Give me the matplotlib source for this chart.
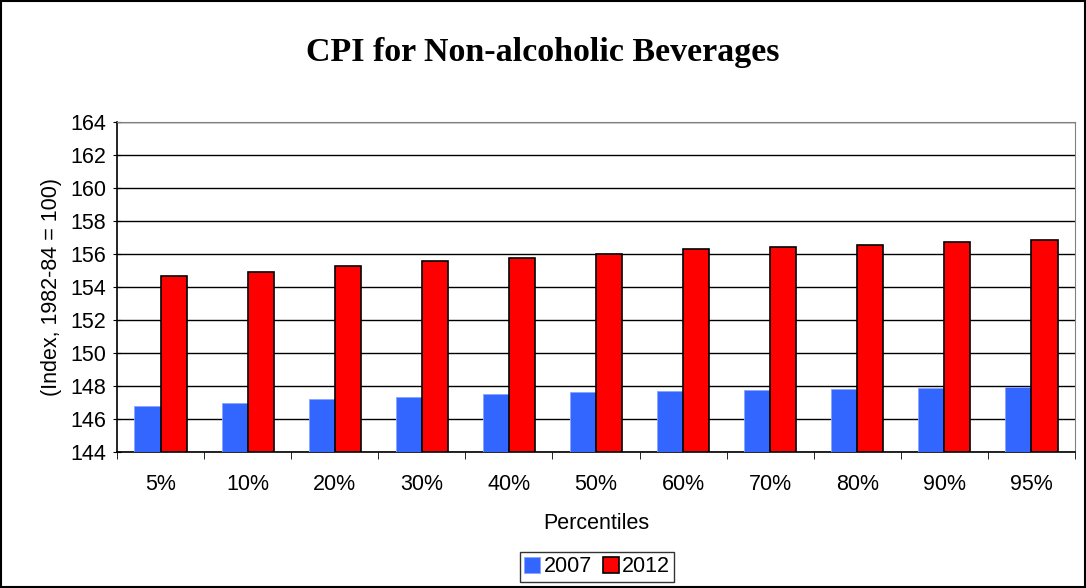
import numpy as np
import matplotlib.pyplot as plt
from matplotlib.patches import Rectangle

categories = ['5%', '10%', '20%', '30%', '40%', '50%', '60%', '70%', '80%', '90%', '95%']
cpi_2007 = [146.77, 146.95, 147.19, 147.33, 147.51, 147.66, 147.72, 147.76, 147.82, 147.88, 147.96]
cpi_2012 = [154.65, 154.88, 155.25, 155.60, 155.76, 156.02, 156.28, 156.44, 156.57, 156.70, 156.85]

fs = 15.5

fig = plt.figure(figsize=(10.86, 5.88), dpi=100)
ax = fig.add_axes([117 / 1086, 1 - 452 / 588, (1075 - 117) / 1086, (452 - 122) / 588])

x = np.arange(len(categories))
w = 0.3
ax.bar(x - w / 2, np.array(cpi_2007) - 144, w, bottom=144, color='#3366FF',
       edgecolor='#8aa4ff', linewidth=0.6, label='2007', zorder=3)
ax.bar(x + w / 2, np.array(cpi_2012) - 144, w, bottom=144, color='#FF0000',
       edgecolor='black', linewidth=1.2, label='2012', zorder=3)

ax.set_ylim(144, 164)
ax.set_xlim(-0.5, len(categories) - 0.5)
ax.set_yticks(np.arange(144, 165, 2))
ax.yaxis.grid(True, color='black', linewidth=1.0, zorder=0)
ax.set_xticks(x)
ax.set_xticklabels(categories, fontsize=fs, family='Liberation Sans')
ax.set_xticks(np.arange(-0.5, len(categories), 1), minor=True)
ax.tick_params(axis='x', which='major', length=0, pad=16)
ax.tick_params(axis='x', which='minor', length=5, direction='out', color='black')
ax.tick_params(axis='y', length=6, direction='inout', labelsize=fs, pad=5)
for lab in ax.get_yticklabels():
    lab.set_family('Liberation Sans')

for s in ['top', 'right']:
    ax.spines[s].set_color('#808080')
for s in ['left', 'bottom']:
    ax.spines[s].set_color('black')
    ax.spines[s].set_linewidth(1.2)

ax.set_xlabel('Percentiles', fontsize=fs, family='Liberation Sans', labelpad=13)
ax.set_ylabel('(Index, 1982-84 = 100)', fontsize=fs, family='Liberation Sans', labelpad=6)

fig.text(0.5, 1 - 52 / 588, 'CPI for Non-alcoholic Beverages', ha='center', va='center',
         fontsize=24.5, fontweight='bold', family='Liberation Serif')

leg = fig.legend(loc='center', bbox_to_anchor=(597 / 1086, 1 - 567 / 588), ncol=2,
                 prop={'family': 'Liberation Sans', 'size': fs}, frameon=True,
                 fancybox=False, edgecolor='black', handlelength=0.75, handleheight=0.75,
                 handletextpad=0.15, columnspacing=0.5, borderpad=0.2, borderaxespad=0)
leg.get_frame().set_linewidth(1.0)

fig.patches.append(Rectangle((0.001, 0.001), 0.998, 0.998, transform=fig.transFigure,
                             fill=False, edgecolor='black', linewidth=1.5))

fig.savefig('out.png', dpi=100)
